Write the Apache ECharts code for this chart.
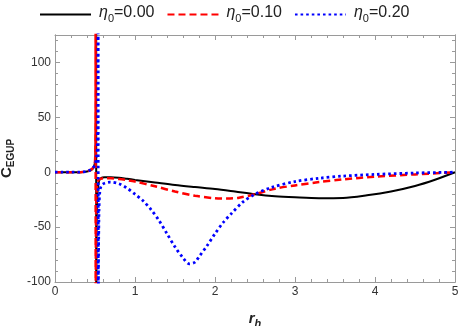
<!DOCTYPE html>
<html>
<head>
<meta charset="utf-8">
<script src="https://cdn.jsdelivr.net/npm/echarts@6/dist/echarts.min.js"></script>
<style>
  html, body { margin: 0; padding: 0; background: #fff; }
  #chart { width: 458px; height: 326px; }
</style>
</head>
<body>
<div id="chart"></div>
<script>
// eta0 = 0.00, pole near r = 0.515
const rBlack = [0, 0.1, 0.2, 0.3, 0.35, 0.4, 0.44, 0.47, 0.49, 0.5, 0.505, 0.51, 0.513, 0.5145, 0.5155, 0.517, 0.52, 0.53, 0.55, 0.58, 0.62, 0.7, 0.8, 0.9, 1.0, 1.25, 1.5, 1.75, 2.0, 2.25, 2.5, 2.75, 3.0, 3.3, 3.6, 3.9, 4.2, 4.5, 4.75, 5.0];
const cBlack = [0, 0, 0, 0, 0.2, 0.6, 1.5, 3, 6, 9, 14, 30, 80, 400, -400, -120, -50, -20, -8, -5.2, -4.6, -4.5, -5, -6, -7, -9.3, -11.6, -13.5, -15.3, -17.6, -20, -21.8, -22.8, -23.6, -23.4, -21, -17.5, -12.5, -6.8, 0];

// eta0 = 0.10, pole near r = 0.508
const rRed = [0, 0.1, 0.2, 0.3, 0.35, 0.4, 0.44, 0.47, 0.49, 0.5, 0.504, 0.507, 0.5078, 0.5085, 0.51, 0.515, 0.525, 0.54, 0.56, 0.6, 0.65, 0.7, 0.8, 0.9, 1.0, 1.25, 1.5, 1.75, 2.0, 2.15, 2.3, 2.5, 2.75, 3.0, 3.3, 3.6, 4.0, 4.5, 5.0];
const cRed = [0, 0, 0, 0, 0.3, 0.8, 2, 3.5, 6.5, 10, 18, 60, 400, -400, -90, -30, -12, -7.5, -6, -5.6, -5.5, -5.6, -6.2, -7.2, -8.5, -12.8, -17.6, -21.5, -23.7, -24, -23.2, -20, -15, -12, -9, -6.5, -4, -2, 0];

// eta0 = 0.20, pole near r = 0.54
const rBlue = [0, 0.1, 0.2, 0.3, 0.35, 0.4, 0.44, 0.47, 0.5, 0.52, 0.53, 0.537, 0.5395, 0.5405, 0.543, 0.55, 0.56, 0.58, 0.62, 0.69, 0.8, 0.9, 1.0, 1.1, 1.2, 1.3, 1.4, 1.5, 1.6, 1.68, 1.75, 1.8, 1.9, 2.0, 2.1, 2.2, 2.35, 2.5, 2.7, 3.0, 3.3, 3.6, 4.0, 4.5, 5.0];
const cBlue = [0, 0, 0, 0, 0.3, 0.8, 2, 3.5, 7, 14, 25, 70, 400, -400, -100, -35, -18, -12, -10, -9, -10.5, -14.5, -20, -26, -34, -44, -56, -68, -78, -83.5, -82, -77, -67, -56, -46, -38, -27, -20, -14, -8.5, -5.5, -3.5, -2, -0.7, 0];

const seriesNames = ['η0=0.00', 'η0=0.10', 'η0=0.20'];
const xTicks = [0, 5, 1];        // min, max, interval
const yTicks = [-100, 125, 50];  // min, max, interval

const FONT = '"Liberation Sans", Arial, sans-serif';
const FRAME = '#9a9a9a';

function pairs(xs, ys) {
    return xs.map(function (x, i) { return [x, ys[i]]; });
}

function frameX(pos, showLabel) {
    return {
        type: 'value', position: pos, min: xTicks[0], max: xTicks[1], interval: xTicks[2],
        axisLine: { show: true, onZero: false, lineStyle: { color: FRAME, width: 1 } },
        axisTick: { show: true, inside: true, length: 5, lineStyle: { color: FRAME } },
        minorTick: { show: true, splitNumber: 5, length: 3, lineStyle: { color: FRAME } },
        splitLine: { show: false },
        axisLabel: { show: showLabel, color: '#333', fontFamily: FONT, fontSize: 12, margin: 4 }
    };
}

function frameY(pos, interval, tickLen, showLabel) {
    return {
        type: 'value', position: pos, min: yTicks[0], max: yTicks[1], interval: interval,
        axisLine: { show: true, onZero: false, lineStyle: { color: FRAME, width: 1 } },
        axisTick: { show: true, inside: true, length: tickLen, lineStyle: { color: FRAME } },
        splitLine: { show: false },
        axisLabel: { show: showLabel, showMaxLabel: false, color: '#333', fontFamily: FONT, fontSize: 12, margin: 4 }
    };
}

let xBottom = frameX('bottom', true);
xBottom.name = '{r|r}{h|h}';
xBottom.nameLocation = 'middle';
xBottom.nameGap = 29;
xBottom.nameTextStyle = {
    rich: {
        r: { fontFamily: FONT, fontSize: 15, fontWeight: 'bold', fontStyle: 'italic', color: '#222', verticalAlign: 'bottom', padding: [0, 0, 3, 0] },
        h: { fontFamily: FONT, fontSize: 11, fontWeight: 'bold', fontStyle: 'italic', color: '#222', verticalAlign: 'bottom' }
    }
};

let yLeft = frameY('left', yTicks[2], 5, true);
yLeft.name = '{c|C}{s|EGUP}';
yLeft.nameLocation = 'middle';
yLeft.nameRotate = 90;
yLeft.nameGap = 38;
yLeft.nameTextStyle = {
    rich: {
        c: { fontFamily: FONT, fontSize: 15, fontWeight: 'bold', color: '#222', verticalAlign: 'bottom', padding: [0, 0, 2, 0] },
        s: { fontFamily: FONT, fontSize: 10, fontWeight: 'bold', color: '#222', verticalAlign: 'bottom' }
    }
};

let option = {
    animation: false,
    backgroundColor: '#fff',
    color: ['#000000', '#ff0000', '#0000ff'],
    legend: {
        data: seriesNames,
        left: 34,
        top: 0,
        itemWidth: 51,
        itemHeight: 14,
        itemGap: 12,
        itemStyle: { opacity: 0 },
        formatter: function (name) {
            return '{i|η}{s|0}{n|' + name.slice(2) + '}';
        },
        textStyle: {
            rich: {
                i: { fontFamily: FONT, fontSize: 16, fontStyle: 'italic', color: '#222', verticalAlign: 'bottom', padding: [0, 0, 3, 3] },
                s: { fontFamily: FONT, fontSize: 11, color: '#222', verticalAlign: 'bottom' },
                n: { fontFamily: FONT, fontSize: 16, color: '#222', verticalAlign: 'bottom', padding: [0, 0, 3, 0] }
            }
        }
    },
    grid: { left: 55, right: 3, top: 35, bottom: 44, outerBoundsMode: 'none' },
    xAxis: [xBottom, frameX('top', false)],
    yAxis: [
        yLeft,
        frameY('right', yTicks[2], 5, false),
        frameY('left', 10, 3, false),
        frameY('right', 10, 3, false)
    ],
    series: [
        {
            name: seriesNames[0], type: 'line', symbol: 'none', smooth: 0.3, clip: true,
            lineStyle: { color: '#000', width: 2, type: 'solid' },
            data: pairs(rBlack, cBlack), z: 2
        },
        {
            name: seriesNames[1], type: 'line', symbol: 'none', smooth: 0.3, clip: true,
            lineStyle: { color: '#ff0000', width: 2.5, type: [7, 4] },
            data: pairs(rRed, cRed), z: 3
        },
        {
            name: seriesNames[2], type: 'line', symbol: 'none', smooth: 0.3, clip: true,
            lineStyle: { color: '#0000ff', width: 2.8, type: [2.6, 3] },
            data: pairs(rBlue, cBlue), z: 4
        }
    ]
};

let chart = echarts.init(document.getElementById('chart'), null, { renderer: 'canvas' });
chart.setOption(option);
</script>
</body>
</html>
